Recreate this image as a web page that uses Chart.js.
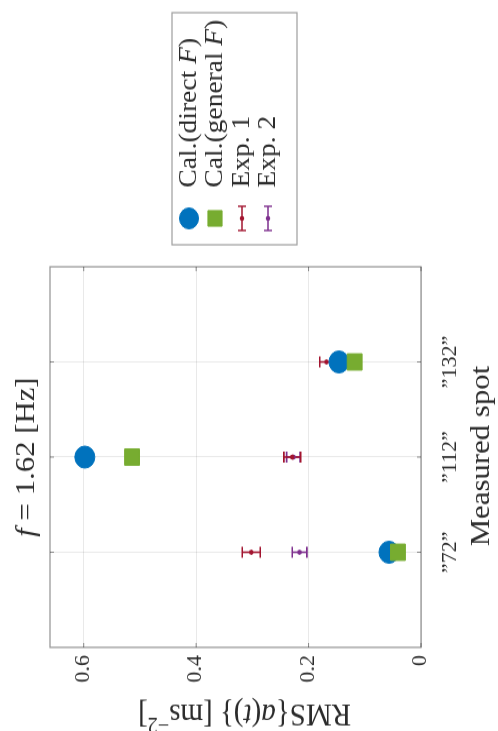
<!DOCTYPE html>
<html>
<head>
<meta charset="utf-8">
<script src="https://cdn.jsdelivr.net/npm/chart.js@4.4.1/dist/chart.umd.min.js"></script>
<style>
  html, body { margin: 0; padding: 0; background: #fff; overflow: hidden; }
  #page { position: absolute; left: 0; top: 0; width: 498px; height: 731px; overflow: hidden; background: #fff; }
  /* the figure is laid out landscape and turned a quarter turn counter-clockwise */
  #fig { position: absolute; left: 0; top: 0; width: 665px; height: 498px;
         transform-origin: 0 0; transform: translate(0px, 731px) rotate(-90deg) scale(1.1, 1); }
  canvas { display: block; }
</style>
</head>
<body>
<div id="page"><div id="fig"><canvas id="c" width="665" height="498"></canvas></div></div>
<script>
// Measured spots (categories along the horizontal axis)
const spots = ['72', '112', '132'];
// RMS acceleration, calculated with the direct force
const calDirect = [0.057, 0.598, 0.146];
// RMS acceleration, calculated with the general force
const calGeneral = [0.041, 0.514, 0.118];
// Experiments: mean and half-width of the error bars
const exp1Mean = [0.302, 0.229, 0.168];
const exp1Err  = [0.016, 0.015, 0.012];
const exp2Mean = [0.216, 0.227, 0.148];
const exp2Err  = [0.013, 0.012, 0.010];
// Value axis ticks
const yTicks = [0, 0.2, 0.4, 0.6];
const yMax = 0.66;

const SERIF = '"Liberation Serif", "Times New Roman", serif';
const INK = '#2b2b2b';
const C_DIRECT = '#0072BD', C_GENERAL = '#77AC30', C_EXP1 = '#A2142F', C_EXP2 = '#7E2F8E';

const pts = arr => arr.map((v, i) => ({ x: i + 1, y: v }));

// text made of roman / italic / superscript pieces
function richText(ctx, segs, x, y, size, align) {
  const fonts = segs.map(s => (s.it ? 'italic ' : '') + (s.sup ? size * 0.7 : size) + 'px ' + SERIF);
  let w = 0;
  const ws = segs.map((s, i) => { ctx.font = fonts[i]; const m = ctx.measureText(s.t).width; w += m; return m; });
  let cx = align === 'center' ? x - w / 2 : x;
  ctx.textAlign = 'left';
  segs.forEach((s, i) => {
    ctx.font = fonts[i];
    ctx.fillText(s.t, cx, y - (s.sup ? size * 0.4 : 0));
    cx += ws[i];
  });
}

function drawErrorBar(ctx, xs, ys, x, v, e, color) {
  const px = xs.getPixelForValue(x);
  const lo = ys.getPixelForValue(v - e), hi = ys.getPixelForValue(v + e);
  const cap = 5;
  ctx.strokeStyle = color; ctx.lineWidth = 1.6;
  ctx.beginPath();
  ctx.moveTo(px, lo); ctx.lineTo(px, hi);
  ctx.moveTo(px - cap, lo); ctx.lineTo(px + cap, lo);
  ctx.moveTo(px - cap, hi); ctx.lineTo(px + cap, hi);
  ctx.stroke();
}

const errorBars = {
  id: 'errorBars',
  beforeDatasetsDraw(chart) {
    const ctx = chart.ctx, xs = chart.scales.x, ys = chart.scales.y;
    ctx.save();
    exp2Mean.forEach((v, i) => drawErrorBar(ctx, xs, ys, i + 1, v, exp2Err[i], C_EXP2));
    exp1Mean.forEach((v, i) => drawErrorBar(ctx, xs, ys, i + 1, v, exp1Err[i], C_EXP1));
    ctx.restore();
  }
};

const frame = {
  id: 'frame',
  afterDatasetsDraw(chart) {
    const ctx = chart.ctx, a = chart.chartArea, xs = chart.scales.x, ys = chart.scales.y;
    ctx.save();
    ctx.strokeStyle = 'rgba(38,38,38,0.5)';
    ctx.lineWidth = 1.2;
    ctx.strokeRect(a.left, a.top, a.right - a.left, a.bottom - a.top);
    // inward tick marks on all four sides
    ctx.lineWidth = 1;
    ctx.beginPath();
    xs.ticks.forEach(t => {
      const p = xs.getPixelForValue(t.value);
      ctx.moveTo(p, a.bottom); ctx.lineTo(p, a.bottom - 4);
      ctx.moveTo(p, a.top); ctx.lineTo(p, a.top + 4);
    });
    ys.ticks.forEach(t => {
      const p = ys.getPixelForValue(t.value);
      ctx.moveTo(a.left, p); ctx.lineTo(a.left + 4, p);
      ctx.moveTo(a.right, p); ctx.lineTo(a.right - 4, p);
    });
    ctx.stroke();
    ctx.restore();
  }
};

const legendEntries = [
  { segs: [{ t: 'Cal.(direct ' }, { t: 'F', it: true }, { t: ')' }], kind: 'circle', color: C_DIRECT },
  { segs: [{ t: 'Cal.(general ' }, { t: 'F', it: true }, { t: ')' }], kind: 'rect', color: C_GENERAL },
  { segs: [{ t: 'Exp. 1' }], kind: 'err', color: C_EXP1 },
  { segs: [{ t: 'Exp. 2' }], kind: 'err', color: C_EXP2 }
];

const labels = {
  id: 'labels',
  afterDraw(chart) {
    const ctx = chart.ctx, a = chart.chartArea;
    const cx = (a.left + a.right) / 2, cy = (a.top + a.bottom) / 2;
    ctx.save();
    ctx.fillStyle = INK;
    ctx.textBaseline = 'alphabetic';
    // title
    richText(ctx, [{ t: 'f', it: true }, { t: ' = 1.62 [Hz]' }], cx, 34, 28, 'center');
    // horizontal axis title
    richText(ctx, [{ t: 'Measured spot' }], cx + 1, 489, 28, 'center');
    // vertical axis title
    ctx.save();
    ctx.translate(24, cy + 9);
    ctx.rotate(-Math.PI / 2);
    richText(ctx, [{ t: 'RMS{' }, { t: 'a', it: true }, { t: '(' }, { t: 't', it: true },
                   { t: ')} [ms' }, { t: '\u22122', sup: true }, { t: ']' }], 0, 0, 29, 'center');
    ctx.restore();

    // legend
    const L = { left: 442, top: 172, right: 653, bottom: 297 };
    ctx.fillStyle = '#fff';
    ctx.fillRect(L.left, L.top, L.right - L.left, L.bottom - L.top);
    ctx.strokeStyle = 'rgba(38,38,38,0.45)';
    ctx.lineWidth = 1.2;
    ctx.strokeRect(L.left, L.top, L.right - L.left, L.bottom - L.top);
    const rowY = [189, 215, 242, 268];
    const mx = 466, tx = 494;
    legendEntries.forEach((e, i) => {
      const y = rowY[i];
      if (e.kind === 'err') {
        ctx.strokeStyle = e.color; ctx.lineWidth = 1.4;
        ctx.beginPath();
        ctx.moveTo(mx - 11, y); ctx.lineTo(mx + 11, y);
        ctx.moveTo(mx - 11, y - 4); ctx.lineTo(mx - 11, y + 4);
        ctx.moveTo(mx + 11, y - 4); ctx.lineTo(mx + 11, y + 4);
        ctx.stroke();
        ctx.fillStyle = e.color;
        Chart.helpers.drawPoint(ctx, { pointStyle: 'circle', radius: 2.2, borderWidth: 0 }, mx, y);
      } else {
        ctx.fillStyle = e.color; ctx.strokeStyle = e.color; ctx.lineWidth = 1;
        Chart.helpers.drawPoint(ctx, { pointStyle: e.kind, radius: e.kind === 'rect' ? 10 : 9.5, borderWidth: 1 }, mx, y);
      }
      ctx.fillStyle = INK;
      ctx.textBaseline = 'middle';
      richText(ctx, e.segs, tx, y, 25, 'left');
    });
    ctx.restore();
  }
};

Chart.defaults.font.family = SERIF;
Chart.defaults.color = INK;

new Chart(document.getElementById('c'), {
  type: 'scatter',
  data: {
    datasets: [
      { label: 'Cal.(general F)', data: pts(calGeneral), order: 0, pointStyle: 'rect', pointRadius: 10.5,
        backgroundColor: C_GENERAL, borderColor: C_GENERAL, borderWidth: 1 },
      { label: 'Cal.(direct F)', data: pts(calDirect), order: 1, pointStyle: 'circle', pointRadius: 10,
        backgroundColor: C_DIRECT, borderColor: C_DIRECT, borderWidth: 1 },
      { label: 'Exp. 1', data: pts(exp1Mean), order: 2, pointStyle: 'circle', pointRadius: 2.3,
        backgroundColor: C_EXP1, borderColor: C_EXP1, borderWidth: 0 },
      { label: 'Exp. 2', data: pts(exp2Mean), order: 3, pointStyle: 'circle', pointRadius: 2.3,
        backgroundColor: C_EXP2, borderColor: C_EXP2, borderWidth: 0 }
    ]
  },
  options: {
    responsive: false,
    animation: false,
    events: [],
    layout: { padding: { left: 0, top: 50, right: 243, bottom: 0 } },
    plugins: { legend: { display: false }, tooltip: { enabled: false }, title: { display: false } },
    scales: {
      x: {
        type: 'linear', position: 'bottom', min: 0, max: spots.length + 1,
        afterBuildTicks: s => { s.ticks = spots.map((_, i) => ({ value: i + 1 })); },
        afterFit: s => { s.height = 77; },
        grid: { color: 'rgba(38,38,38,0.10)', lineWidth: 1, drawTicks: false },
        border: { display: false },
        ticks: { padding: 18, maxRotation: 0, autoSkip: false, color: INK,
                 font: { size: 20, family: SERIF },
                 callback: (v, i) => '\u201D' + spots[i] + '\u201D' }
      },
      y: {
        type: 'linear', position: 'left', min: 0, max: yMax,
        afterBuildTicks: s => { s.ticks = yTicks.map(v => ({ value: v })); },
        afterFit: s => { s.width = 76; },
        grid: { color: 'rgba(38,38,38,0.10)', lineWidth: 1, drawTicks: false },
        border: { display: false },
        ticks: { padding: 7, color: INK, font: { size: 20, family: SERIF },
                 callback: (v, i) => String(yTicks[i]) }
      }
    }
  },
  plugins: [errorBars, frame, labels]
});
</script>
</body>
</html>
